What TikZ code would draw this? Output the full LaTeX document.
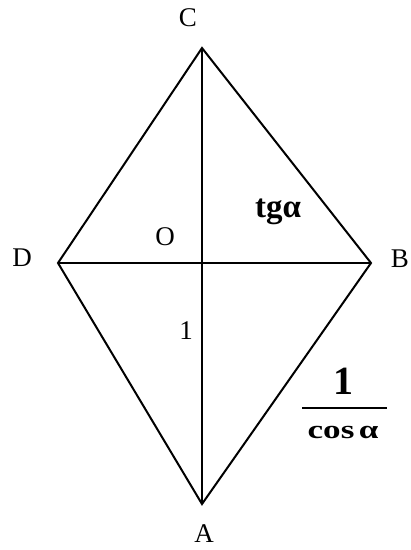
\documentclass[tikz,border=0pt]{standalone}
\usepackage{fontspec}
\setmainfont{Liberation Serif}
\newfontfamily\boldserif{Liberation Serif}
\newfontfamily\wideserif[FakeStretch=1.35]{Liberation Serif}
\usetikzlibrary{positioning}

\begin{document}
\begin{tikzpicture}[
  x=1pt,y=-1pt,
  edge/.style={line width=2pt,line join=miter},
  vlabel/.style={inner sep=0pt,font=\fontsize{27}{27}\selectfont},
  blabel/.style={inner sep=0pt,font=\fontsize{33}{33}\selectfont\boldserif\bfseries},
  flabel/.style={inner sep=0pt,font=\fontsize{26}{26}\selectfont\wideserif\bfseries},
]
  \useasboundingbox (0,0) rectangle (411,550);

  % vertices
  \coordinate (C) at (202,48);
  \coordinate (B) at (371,263);
  \coordinate (A) at (202,504);
  \coordinate (D) at (58,263);
  \coordinate (O) at (202,263);

  % rhombus and diagonals
  \draw[edge] (C) -- (B) -- (A) -- (D) -- cycle;
  \draw[edge] (C) -- (A);
  \draw[edge] (D) -- (B);

  % vertex names
  \node[vlabel] (lc) at (188,18)  {C};
  \node[vlabel] (la) at (204,534) {A};
  \node[vlabel] (ld) at (22,258)  {D};
  \node[vlabel] (lb) at (400,259) {B};
  \node[vlabel] (lo) at (165,237) {O};
  \node[vlabel] (l1) at (186,331) {1};

  % side lengths
  \node[blabel] (tg) at (278,212) {tgα};
  \node[blabel,font=\fontsize{40}{40}\selectfont\boldserif\bfseries] (num) at (343,381) {1};
  \node[flabel] (den) at (343,432) {cos\,α};
  \coordinate (barl) at (302,408);
  \coordinate (barr) at (387,408);
  \draw[line width=2pt] (barl) -- (barr);
\end{tikzpicture}
\end{document}
